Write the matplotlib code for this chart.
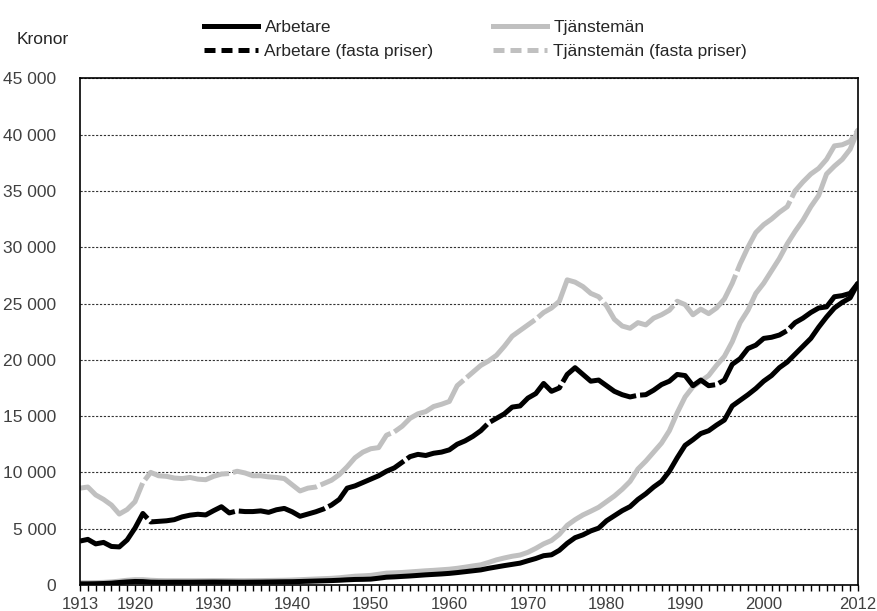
import matplotlib
matplotlib.use("Agg")
import matplotlib.pyplot as plt
from matplotlib.lines import Line2D
from matplotlib.ticker import FuncFormatter, MultipleLocator

plt.rcParams["font.family"] = ["Liberation Sans", "DejaVu Sans"]

years = list(range(1913, 2013))

# Nominal wages (kronor per month)
arbetare = [
    100, 100, 110, 130, 160, 220, 270, 310, 300, 250,
    240, 240, 245, 245, 245, 250, 255, 260, 255, 250,
    245, 245, 250, 255, 265, 275, 285, 290, 310, 330,
    350, 370, 390, 420, 460, 490, 500, 520, 600, 690,
    720, 760, 800, 850, 900, 940, 980, 1030, 1100, 1180,
    1260, 1340, 1480, 1600, 1720, 1830, 1940, 2150, 2350, 2600,
    2680, 3080, 3700, 4200, 4450, 4800, 5050, 5700, 6150, 6600,
    6960, 7600, 8100, 8700, 9200, 10100, 11300, 12400, 12900, 13450,
    13700, 14200, 14650, 15900, 16400, 16900, 17450, 18100, 18600, 19300,
    19800, 20500, 21200, 21900, 22900, 23800, 24600, 25100, 25500, 26800,
]
tjanstemann = [
    200, 200, 210, 230, 270, 340, 420, 470, 470, 420,
    390, 380, 380, 380, 380, 380, 385, 390, 390, 385,
    380, 380, 385, 390, 400, 410, 420, 440, 470, 500,
    530, 560, 590, 640, 710, 780, 810, 850, 950, 1050,
    1080, 1110, 1160, 1210, 1260, 1300, 1350, 1400, 1480, 1580,
    1690, 1790, 2000, 2230, 2400, 2550, 2660, 2900, 3250, 3650,
    3950, 4500, 5300, 5800, 6220, 6550, 6900, 7400, 7900, 8500,
    9200, 10300, 11000, 11800, 12600, 13700, 15300, 16700, 17600, 18100,
    18600, 19500, 20300, 21600, 23300, 24400, 25900, 26800, 27900, 29000,
    30300, 31400, 32400, 33600, 34600, 36500, 37200, 37800, 38700, 40400,
]

# Fixed prices (2012 money)
arbetare_fasta = [
    3900, 4050, 3650, 3780, 3420, 3380, 4000, 5050, 6350, 5600,
    5650, 5700, 5800, 6050, 6200, 6280, 6220, 6600, 6950, 6400,
    6580, 6520, 6520, 6580, 6450, 6680, 6800, 6500, 6100, 6300,
    6500, 6750, 7100, 7600, 8600, 8800, 9100, 9400, 9700, 10100,
    10400, 10900, 11400, 11600, 11500, 11700, 11800, 12000, 12500, 12800,
    13200, 13700, 14400, 14800, 15200, 15800, 15900, 16600, 17000, 17900,
    17200, 17500, 18700, 19300, 18700, 18100, 18200, 17700, 17200, 16900,
    16700, 16850, 16900, 17300, 17800, 18100, 18700, 18600, 17700, 18200,
    17700, 17800, 18200, 19600, 20100, 21000, 21300, 21900, 22000, 22200,
    22600, 23300, 23700, 24200, 24600, 24700, 25600, 25700, 25900, 26800,
]
tjanstemann_fasta = [
    8600, 8700, 8000, 7600, 7100, 6300, 6700, 7400, 9100, 10000,
    9700, 9650, 9500, 9450, 9550, 9400, 9350, 9650, 9850, 9900,
    10100, 9950, 9700, 9700, 9600, 9550, 9450, 8900, 8350, 8600,
    8700, 9000, 9300, 9800, 10500, 11300, 11800, 12100, 12200, 13300,
    13600, 14100, 14800, 15200, 15400, 15850, 16050, 16300, 17700, 18300,
    18900, 19500, 19900, 20400, 21200, 22100, 22600, 23100, 23600, 24200,
    24600, 25200, 27100, 26900, 26500, 25900, 25600, 24800, 23600, 23000,
    22800, 23300, 23100, 23700, 24000, 24400, 25200, 24900, 24000, 24500,
    24100, 24600, 25400, 26800, 28500, 30000, 31300, 32000, 32500, 33100,
    33600, 35000, 35800, 36500, 37000, 37800, 39000, 39100, 39400, 40400,
]

xlabels = {1913: "1913", 1920: "1920", 1930: "1930", 1940: "1940", 1950: "1950",
           1960: "1960", 1970: "1970", 1980: "1980", 1990: "1990", 2000: "2000",
           2012: "2012"}

BLACK = "#000000"
GREY = "#c0c0c0"
LW = 3.6
long_dash = (18, 0.8)

fig = plt.figure(figsize=(8.77, 6.11), dpi=100)
ax = fig.add_axes([0.0912, 0.0426, 0.8871, 0.8292])

ax.plot(years, tjanstemann_fasta, color=GREY, lw=LW, dashes=long_dash,
        dash_capstyle="butt", dash_joinstyle="round")
ax.plot(years, tjanstemann, color=GREY, lw=LW, solid_capstyle="round",
        solid_joinstyle="round")
ax.plot(years, arbetare_fasta, color=BLACK, lw=LW, dashes=long_dash,
        dash_capstyle="butt", dash_joinstyle="round")
ax.plot(years, arbetare, color=BLACK, lw=LW, solid_capstyle="round",
        solid_joinstyle="round")

ax.set_xlim(1913, 2012)
ax.set_ylim(0, 45000)

ax.yaxis.set_major_locator(MultipleLocator(5000))
ax.yaxis.set_major_formatter(FuncFormatter(lambda v, p: f"{int(v):,}".replace(",", " ")))
ax.grid(axis="y", color="#333333", lw=0.8, linestyle=(0, (2, 1.5)))
ax.set_axisbelow(True)

ax.set_xticks(years)
ax.set_xticklabels([xlabels.get(y, "") for y in years])
ax.tick_params(axis="x", direction="out", length=4, width=1, pad=5,
               labelsize=12, labelcolor="#404040")
ax.tick_params(axis="y", length=0, pad=17, labelsize=12.5, labelcolor="#404040")

for s in ax.spines.values():
    s.set_linewidth(1.2)
    s.set_color("black")

fig.text(0.049, 0.935, "Kronor", fontsize=12.5, color="#262626",
         ha="center", va="center")

handles = [
    Line2D([], [], color=BLACK, lw=LW),
    Line2D([], [], color=BLACK, lw=LW, dashes=(2.2, 1.2)),
    Line2D([], [], color=GREY, lw=LW),
    Line2D([], [], color=GREY, lw=LW, dashes=(2.2, 1.2)),
]
labels = ["Arbetare", "Arbetare (fasta priser)", "Tjänstemän",
          "Tjänstemän (fasta priser)"]
fig.legend(handles, labels, ncol=2, loc="upper left",
           bbox_to_anchor=(0.2224, 0.982), frameon=False, borderpad=0,
           fontsize=12.5, handlelength=3.15, handletextpad=0.35,
           columnspacing=3.4, labelspacing=0.5, labelcolor="#262626")

fig.savefig("out.png", dpi=100)
